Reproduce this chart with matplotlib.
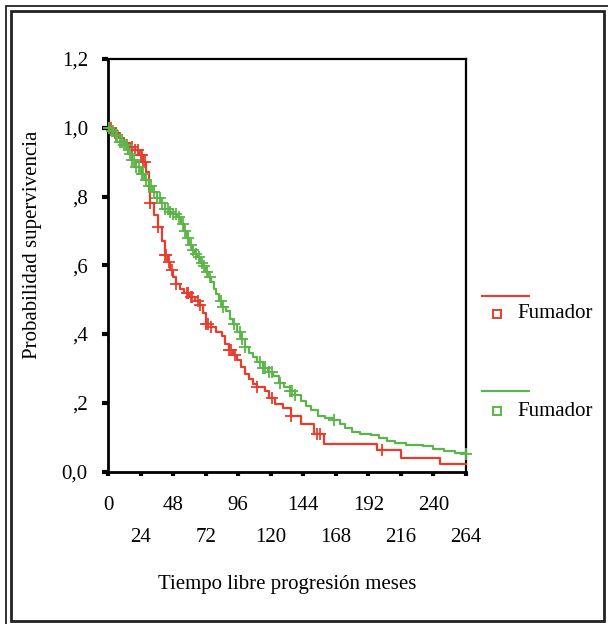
import matplotlib
matplotlib.use("Agg")
import matplotlib.pyplot as plt
import numpy as np
from matplotlib.lines import Line2D
from matplotlib.patches import Rectangle

# Kaplan-Meier steps (months, survival)
red_t = [0, 4, 8, 12, 16, 20, 23, 26, 28, 30, 31, 34, 37, 40, 42, 44, 46, 48, 50, 53, 56, 60,
         64, 68, 70, 72, 76, 80, 84, 86, 89, 92, 95, 98, 101, 104, 107, 110, 116, 119, 123, 129,
         135, 142, 152, 159, 198, 216, 245, 264]
red_s = [1.0, 0.985, 0.97, 0.955, 0.945, 0.935, 0.92, 0.9, 0.87, 0.82, 0.78, 0.745, 0.71, 0.67,
         0.63, 0.61, 0.585, 0.565, 0.545, 0.53, 0.52, 0.508, 0.495, 0.485, 0.46, 0.43, 0.42, 0.405,
         0.395, 0.37, 0.353, 0.34, 0.325, 0.305, 0.285, 0.27, 0.255, 0.245, 0.235, 0.214, 0.196,
         0.185, 0.162, 0.139, 0.11, 0.081, 0.063, 0.040, 0.021, 0.021]

green_t = [0, 3, 6, 9, 12, 15, 18, 21, 24, 27, 30, 33, 36, 39, 42, 45, 48, 51, 54, 56, 58, 60,
           62, 64, 66, 68, 70, 72, 74, 76, 78, 80, 82, 84, 87, 90, 92, 95, 98, 101, 104, 107, 110,
           114, 118, 122, 126, 130, 134, 138, 142, 146, 150, 155, 160, 166, 171, 175, 180, 186,
           194, 200, 206, 212, 220, 232, 240, 248, 256, 264]
green_s = [1.0, 0.99, 0.978, 0.96, 0.95, 0.925, 0.905, 0.885, 0.865, 0.848, 0.83, 0.812, 0.796,
           0.78, 0.765, 0.755, 0.748, 0.74, 0.72, 0.70, 0.68, 0.66, 0.643, 0.632, 0.625, 0.607,
           0.598, 0.58, 0.565, 0.55, 0.53, 0.515, 0.495, 0.48, 0.468, 0.445, 0.428, 0.405, 0.386,
           0.362, 0.345, 0.332, 0.318, 0.302, 0.29, 0.278, 0.257, 0.245, 0.235, 0.222, 0.205,
           0.19, 0.178, 0.162, 0.156, 0.15, 0.137, 0.127, 0.115, 0.11, 0.105, 0.098, 0.09, 0.083,
           0.078, 0.073, 0.065, 0.06, 0.055, 0.052]

# censored times
red_cens = [2, 5, 18, 20, 22, 24, 25, 26, 27, 31, 37, 42, 43, 45, 47, 50, 58, 59, 61, 62, 66, 68,
            72, 74, 76, 89, 91, 94, 110, 121, 135, 154, 156, 202]
green_cens = [1, 3, 4, 6, 7, 9, 10, 12, 13, 14, 16, 18, 19, 21, 23, 25, 26, 28, 30, 32, 34, 36,
              38, 40, 42, 44, 46, 48, 50, 52, 55, 57, 59, 61, 63, 65, 67, 69, 71, 73, 75, 83, 85,
              93, 97, 99, 101, 112, 114, 116, 119, 121, 127, 134, 136, 138, 167, 264]

series_labels = ["Fumador", "Fumador"]
y_ticks = [0.0, 0.2, 0.4, 0.6, 0.8, 1.0, 1.2]
y_ticklabels = ["0,0", ",2", ",4", ",6", ",8", "1,0", "1,2"]
x_ticks = list(range(0, 265, 24))

RED = "#e63e2e"
GREEN = "#5cb548"
FONT = "Liberation Serif"
FS = 15
W, H = 608, 624

plt.rcParams["font.family"] = [FONT, "DejaVu Serif"]

fig = plt.figure(figsize=(W / 100, H / 100), dpi=100)
ax = fig.add_axes([108 / W, 1 - 471.5 / H, 358 / W, 412.5 / H])


def step_value(t, s, c):
    idx = np.searchsorted(t, c, side="right") - 1
    return np.asarray(s)[idx]


for t, s, cens, col in [(red_t, red_s, red_cens, RED), (green_t, green_s, green_cens, GREEN)]:
    ax.plot(t, s, drawstyle="steps-post", color=col, lw=1.6, clip_on=False, zorder=3)
    ax.plot(cens, step_value(t, s, cens), ls="none", marker="+", ms=8, mew=1.3,
            color=col, clip_on=False, zorder=3)

ax.set_xlim(0, 264)
ax.set_ylim(0, 1.2)
for sp in ax.spines.values():
    sp.set_linewidth(1.6)
ax.spines["left"].set_linewidth(2.0)
ax.spines["bottom"].set_linewidth(2.0)

ax.set_yticks(y_ticks)
ax.set_yticklabels(y_ticklabels)
ax.tick_params(axis="y", direction="out", length=4.5, width=3, pad=10, labelsize=FS)

# two rows of x labels: even ticks upper, odd ticks lower
ax.set_xticks(x_ticks[0::2])
ax.set_xticklabels([str(v) for v in x_ticks[0::2]])
ax.set_xticks(x_ticks[1::2], minor=True)
ax.set_xticklabels([str(v) for v in x_ticks[1::2]], minor=True)
ax.tick_params(axis="x", which="major", direction="out", length=3, width=3, pad=15, labelsize=FS)
ax.tick_params(axis="x", which="minor", direction="out", length=3, width=3, pad=38, labelsize=FS)

fig.text(287 / W, 1 - 584 / H, "Tiempo libre progresión meses", ha="center", va="center",
         fontsize=FS)
fig.text(33 / W, 1 - 245 / H, "Probabilidad supervivencia", ha="center", va="center",
         rotation=90, fontsize=FS)

# legend drawn by hand: line above, hollow square + label below
for (ly, my), col, lab in zip([(296, 314), (391, 411)], [RED, GREEN], series_labels):
    fig.add_artist(Line2D([482 / W, 529 / W], [1 - ly / H, 1 - ly / H], color=col, lw=1.5))
    fig.add_artist(Line2D([497 / W], [1 - my / H], marker="s", ms=5.5, mfc="none", mec=col,
                          mew=1.4, ls="none"))
    fig.text(517 / W, 1 - my / H, lab, ha="left", va="center", fontsize=FS)

# double frame around the figure
fig.add_artist(Rectangle((5.5 / W, -0.02), (W + 10) / W, 1 - 5.5 / H + 0.02,
                         transform=fig.transFigure, fill=False, ec="#222222", lw=1.3))
fig.add_artist(Rectangle((11 / W, 1 - 621 / H), 593 / W, 610 / H,
                         transform=fig.transFigure, fill=False, ec="#222222", lw=2.0))

fig.savefig("out.png", dpi=100)
